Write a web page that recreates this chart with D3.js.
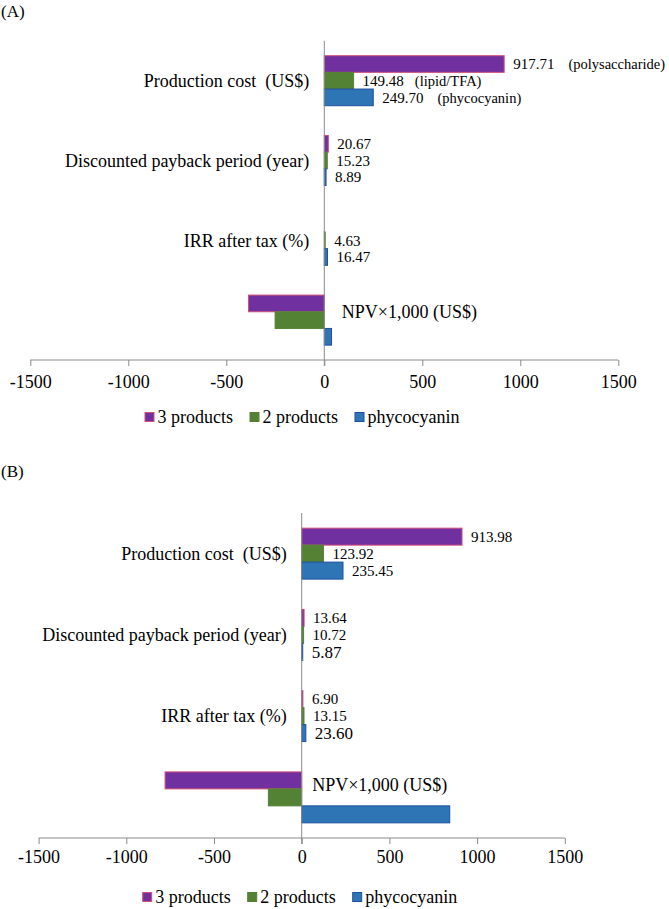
<!DOCTYPE html>
<html>
<head>
<meta charset="utf-8">
<script src="https://cdn.jsdelivr.net/npm/d3@7/dist/d3.min.js"></script>
<style>
  html, body { margin: 0; padding: 0; background: #fff; }
  svg { display: block; }
  text { font-family: "Liberation Serif", "Times New Roman", serif; fill: #000; white-space: pre; }
</style>
</head>
<body>
<svg id="chart" width="669" height="909"></svg>
<script>
// ---------- data ----------
const categories = ["Production cost  (US$)", "Discounted payback period (year)", "IRR after tax (%)", "NPV×1,000 (US$)"];
const seriesNames = ["3 products", "2 products", "phycocyanin"];
const tickValues = [-1500, -1000, -500, 0, 500, 1000, 1500];

// Panel A
const threeProductsA = [917.71, 20.67, null, -387];
const twoProductsA   = [149.48, 15.23, 4.63, -251];
const phycocyaninA   = [249.70, 8.89, 16.47, 37];
const notesA = ["(polysaccharide)", "(lipid/TFA)", "(phycocyanin)"];

// Panel B
const threeProductsB = [913.98, 13.64, 6.90, -779];
const twoProductsB   = [123.92, 10.72, 13.15, -190];
const phycocyaninB   = [235.45, 5.87, 23.60, 844];
const notesB = [null, null, null];

// ---------- styles ----------
const fills   = ["#7030A0", "#548235", "#2E75B6"];
const strokes = ["#D0507A", "#548235", "#1F4FA0"];
const axisColor = "#8a8a8a";

const svg = d3.select("#chart");
svg.append("rect").attr("width", 669).attr("height", 909).attr("fill", "#fff");

function drawPanel(cfg) {
  const g = svg.append("g");
  const x = d3.scaleLinear().domain([-1500, 1500]).range(cfg.xRange);
  const y = d3.scaleBand().domain(categories).range(cfg.yRange).padding(0);
  const bw = y.bandwidth();
  const inner = d3.scaleBand().domain(seriesNames).range([bw * 0.1865, bw * 0.8135]).padding(0);

  // panel label
  g.append("text").attr("x", 1).attr("y", cfg.labelY).attr("font-size", 17).text(cfg.label);

  // bars
  const series = cfg.series;
  series.forEach((vals, si) => {
    g.selectAll(null)
      .data(categories.map((c, ci) => ({ c, v: vals[ci] })).filter(d => d.v !== null))
      .join("rect")
      .attr("x", d => Math.min(x(0), x(d.v)))
      .attr("y", d => y(d.c) + inner(seriesNames[si]))
      .attr("width", d => Math.max(0.8, Math.abs(x(d.v) - x(0))))
      .attr("height", inner.bandwidth())
      .attr("fill", fills[si])
      .attr("stroke", strokes[si])
      .attr("stroke-width", 1);
  });

  // horizontal axis
  const axisY = cfg.yRange[1];
  const axis = d3.axisBottom(x).tickValues(tickValues).tickSize(6).tickFormat(d => String(d));
  const ag = g.append("g").attr("transform", `translate(0,${axisY})`).call(axis);
  ag.select(".domain").attr("stroke", axisColor).attr("d", `M${cfg.xRange[0]},0H${cfg.xRange[1]}`);
  ag.selectAll(".tick line").attr("stroke", axisColor);
  ag.selectAll(".tick text")
    .attr("font-family", "Liberation Serif, Times New Roman, serif")
    .attr("font-size", 18).attr("fill", "#000")
    .attr("dy", null).attr("y", cfg.tickLabelDy);

  // zero line
  g.append("line")
    .attr("x1", x(0)).attr("x2", x(0))
    .attr("y1", cfg.yRange[0]).attr("y2", axisY + 6)
    .attr("stroke", axisColor).attr("stroke-width", 1);

  // category labels
  categories.forEach((c, ci) => {
    const last = ci === categories.length - 1;
    g.append("text")
      .attr("x", last ? x(0) + cfg.npvLabelDx : x(0) - 15)
      .attr("y", y(c) + bw / 2 + (last ? cfg.npvLabelDy : 0))
      .attr("dy", "0.35em")
      .attr("text-anchor", last ? "start" : "end")
      .attr("font-size", 18)
      .text(c);
  });

  // value labels (first three categories)
  series.forEach((vals, si) => {
    vals.forEach((v, ci) => {
      if (v === null || ci === categories.length - 1) return;
      const cy = y(categories[ci]) + inner(seriesNames[si]) + inner.bandwidth() / 2;
      const big = cfg.bigLabels.some(b => b[0] === si && b[1] === ci);
      const t = g.append("text")
        .attr("x", x(v) + 9)
        .attr("y", cy)
        .attr("dy", "0.35em")
        .attr("font-size", big ? 17 : 15)
        .text(d3.format(".2f")(v));
      if (ci === 0 && cfg.notes[si]) {
        t.append("tspan").attr("dx", cfg.noteGap[si]).attr("font-size", 14.5).text(cfg.notes[si]);
      }
    });
  });

  // legend
  let lx = cfg.legendX;
  const ly = cfg.legendY;
  seriesNames.forEach((s, si) => {
    g.append("rect")
      .attr("x", lx).attr("y", ly - 4.5).attr("width", 9).attr("height", 9)
      .attr("fill", fills[si]).attr("stroke", strokes[si]).attr("stroke-width", 1);
    const t = g.append("text").attr("x", lx + 12.5).attr("y", ly).attr("dy", "0.35em")
      .attr("font-size", 18).text(s);
    lx = lx + 12.5 + t.node().getComputedTextLength() + 17;
  });
}

drawPanel({
  label: "(A)", labelY: 17,
  xRange: [30.3, 618.3], yRange: [40.8, 360],
  series: [threeProductsA, twoProductsA, phycocyaninA],
  notes: notesA, noteGap: [14, 11, 14],
  bigLabels: [],
  npvLabelDx: 17.5, npvLabelDy: -8,
  tickLabelDy: 27.5,
  legendX: 145, legendY: 417
});

drawPanel({
  label: "(B)", labelY: 477,
  xRange: [38.6, 564.8], yRange: [513, 838],
  series: [threeProductsB, twoProductsB, phycocyaninB],
  notes: notesB, noteGap: [0, 0, 0],
  bigLabels: [[2, 1], [2, 2]],
  npvLabelDx: 10.5, npvLabelDy: -13,
  tickLabelDy: 25,
  legendX: 142.7, legendY: 897
});
</script>
</body>
</html>
